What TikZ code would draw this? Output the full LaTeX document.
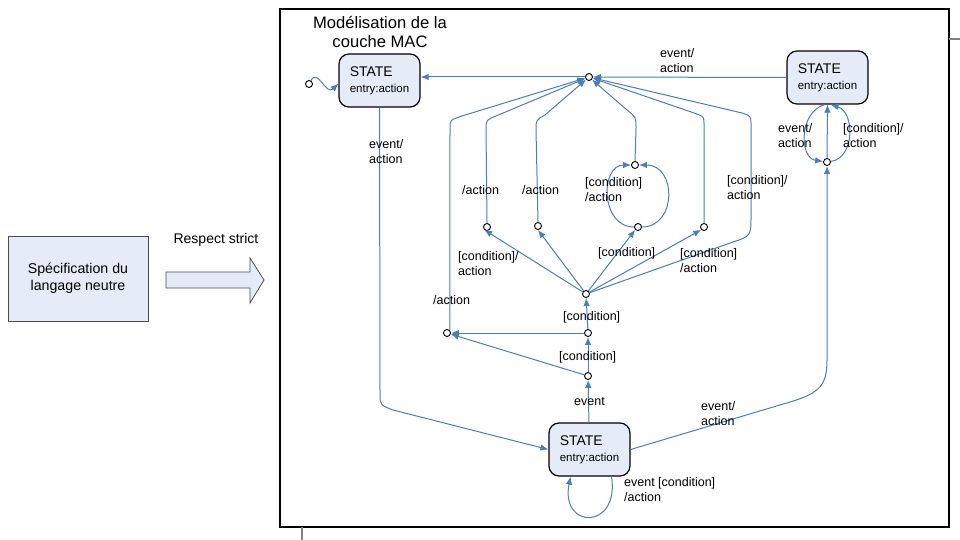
\documentclass[tikz,border=0pt]{standalone}
\usepackage{fontspec}
\setmainfont{Liberation Sans}
\usepackage{xcolor}
\usepackage{tikz}
\usetikzlibrary{arrows.meta}
\definecolor{flowblue}{RGB}{74,126,187}
\definecolor{statefill}{RGB}{230,236,247}
\newcommand{\stlabel}{{\fontsize{14}{16}\selectfont STATE}\\entry:action}

\begin{document}
\begin{tikzpicture}[x=1pt, y=-1pt,
  state/.style={rectangle, draw=black, line width=1.2pt, rounded corners=10pt, fill=statefill, minimum width=81pt, minimum height=53pt, align=left, inner sep=0pt, font=\fontsize{11.5}{16}\selectfont},
  pseudo/.style={circle, draw=black, line width=0.9pt, fill=white, inner sep=0pt, minimum size=7pt},
  lbl/.style={anchor=west, align=left, inner sep=0pt, font=\fontsize{12.5}{15}\selectfont},
  flow/.style={-{Latex[length=8pt,width=6.5pt]}, draw=flowblue, line width=1pt}
]
\useasboundingbox (0,0) rectangle (960,540);

\node[rectangle, draw=black!70, fill=statefill, minimum width=140pt, minimum height=85pt, align=center, font=\fontsize{14.2}{17}\selectfont] (spec) at (78,278.5) {Spécification du\\langage neutre};
\draw[draw=black!70, fill=statefill, line width=0.8pt] (166,272) -- (250,272) -- (250,258) -- (264,280) -- (250,303) -- (250,288) -- (166,288) -- cycle;
\node[font=\fontsize{14}{17}\selectfont] (respect) at (216,240) {Respect strict};

\draw[line width=1.2pt] (280,9) rectangle (949,527);
\draw[gray, line width=1.2pt] (949,39) -- (960,39);
\draw[gray, line width=1.2pt] (302,527) -- (302,540);
\node[align=center, font=\fontsize{16.6}{19.5}\selectfont] (title) at (380,32) {Modélisation de la\\couche MAC};

\node[state] (s1) at (379.5,80.5) {\stlabel};
\node[state] (s2) at (827.5,77.5) {\stlabel};
\node[state] (s3) at (589.5,449.5) {\stlabel};

\node[pseudo] (ini) at (309,84) {};
\node[pseudo] (top) at (589,77) {};
\node[pseudo] (jr) at (827,162) {};
\node[pseudo] (lt) at (635,165) {};
\node[pseudo] (ja) at (487,227) {};
\node[pseudo] (jb) at (538,226) {};
\node[pseudo] (jc) at (638,227) {};
\node[pseudo] (jd) at (704,227) {};
\node[pseudo] (mid) at (586,294) {};
\node[pseudo] (c2) at (588,333) {};
\node[pseudo] (jl) at (447,333) {};
\node[pseudo] (c1) at (588,376) {};

\draw[flow] (ini) .. controls (318,68) and (326,96) .. ([yshift=-3pt]s1.west);
\draw[flow] (top) -- (top -| s1.east);
\draw[flow] (s2.west) -- (top);
\draw[flow] (s1.south) -- (380,393) .. controls (380,405) .. (393,410) -- (s3.west);
\draw[flow] (s3) -- (c1);
\draw[flow] (s3.east) -- (790,402) .. controls (820,393) and (827,385) .. (827,360) -- (jr);
\draw[flow] (jr) -- (s2.south);
\draw[flow] ([xshift=-3pt]s2.south) .. controls (799,112) and (799,158) .. (jr);
\draw[flow] (jr) .. controls (855,158) and (855,112) .. ([xshift=3pt]s2.south);
\draw[flow] (c1) -- (c2);
\draw[flow] (c1) -- (jl);
\draw[flow] (c2) -- (jl);
\draw[flow] (c2) -- (mid);
\draw[flow] (jl.north east) -- (450,128) .. controls (450,120) .. (462,116) -- (top);
\draw[flow] (mid) -- (ja.south west);
\draw[flow] (mid) -- (jb.south);
\draw[flow] (mid) -- (jc.south west);
\draw[flow] (mid) -- (jd.south west);
\draw[flow] (ja.north) -- (486,130) .. controls (486,120) .. (496,116) -- (top);
\draw[flow] (jb.north) -- (536,130) .. controls (536,120) .. (545,115) -- (top);
\draw[flow] (jc) .. controls (600,227) and (600,165) .. (lt);
\draw[flow] (jc) .. controls (677,227) and (677,165) .. (lt);
\draw[flow] (lt.north) -- (636,128) .. controls (636,117) .. (627,110) -- (top);
\draw[flow] (jd.north) -- (704,125) .. controls (704,117) .. (697,114) -- (top);
\draw[flow] (mid) -- (733,242) .. controls (751,236) .. (751,215) -- (751,125) .. controls (751,116) .. (742,113) -- (top);
\draw[flow] ([xshift=22pt]s3.south) .. controls (620,530) and (560,530) .. ([xshift=-19pt]s3.south);

\node[lbl] (lbltop) at (660,61) {event/\\action};
\node[lbl] (lbls1) at (369,152) {event/\\action};
\node[lbl] (lbljl) at (433,300) {/action};
\node[lbl] (lblja) at (462,190) {/action};
\node[lbl] (lbljb) at (522,190) {/action};
\node[lbl] (lblloop) at (585,190) {[condition]\\/action};
\node[lbl] (lbllong) at (727,188) {[condition]/\\action};
\node[lbl] (lbls2a) at (778,136) {event/\\action};
\node[lbl] (lbls2b) at (843,136) {[condition]/\\action};
\node[lbl] (lblmida) at (458,264) {[condition]/\\action};
\node[lbl] (lblmidc) at (598,253) {[condition]};
\node[lbl] (lblmidd) at (680,261) {[condition]\\/action};
\node[lbl] (lblc2) at (563,317) {[condition]};
\node[lbl] (lblc1) at (559,357) {[condition]};
\node[lbl] (lblev) at (574,402) {event};
\node[lbl] (lbls3) at (701,414) {event/\\action};
\node[lbl] (lblself) at (624,490) {event [condition]\\/action};

\end{tikzpicture}
\end{document}
